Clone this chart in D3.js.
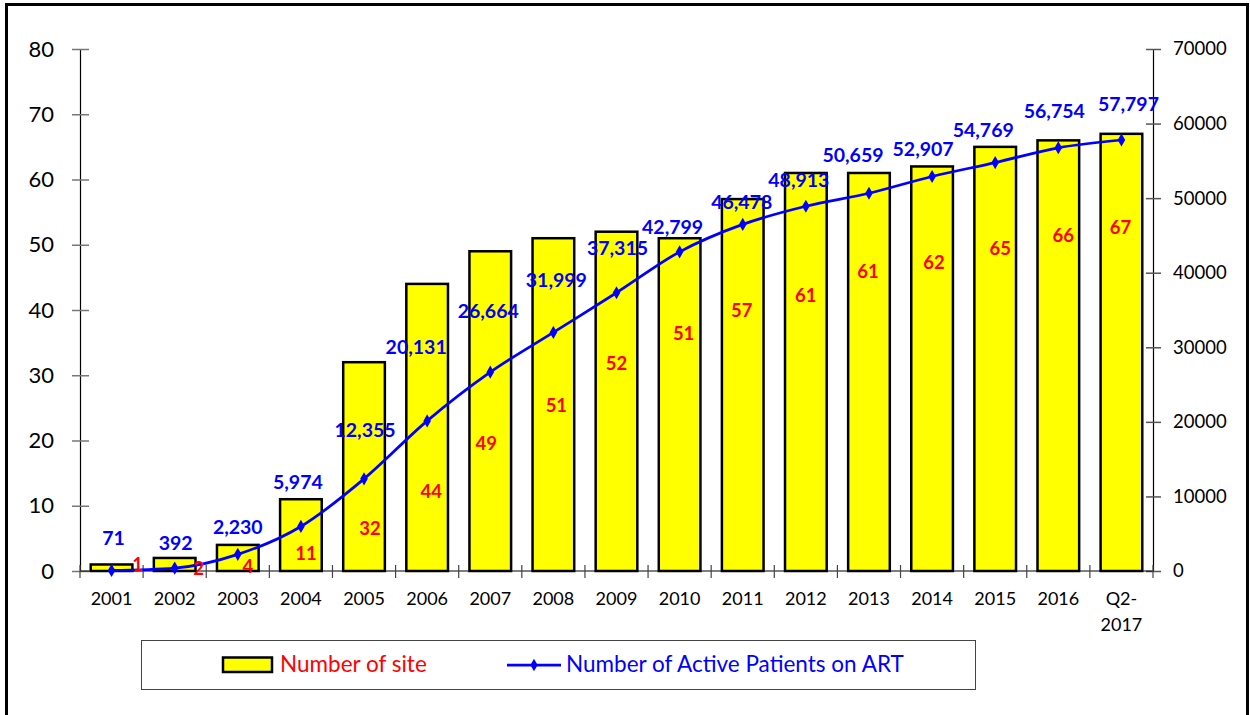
<!DOCTYPE html>
<html>
<head>
<meta charset="utf-8">
<script src="https://cdn.jsdelivr.net/npm/d3@7"></script>
<style>
  body { margin: 0; background: #fff; }
  svg { display: block; font-family: Lato, "Open Sans", sans-serif; }
</style>
</head>
<body>
<div id="chart_box"></div>
<script>
// data
var years = ['2001','2002','2003','2004','2005','2006','2007','2008','2009',
             '2010','2011','2012','2013','2014','2015','2016','Q2-2017']
var sites = [1,2,4,11,32,44,49,51,52,51,57,61,61,62,65,66,67]
var patients = [71,392,2230,5974,12355,20131,26664,31999,37315,42799,46478,48913,50659,52907,54769,56754,57797]
var leftTicks = [0,10,20,30,40,50,60,70,80]
var rightTicks = [0,10000,20000,30000,40000,50000,60000,70000]

// hand-placed label offsets (px from the line point), like the dragged labels in the original
var blueNudge = [[2,-32],[1,-25],[0,-27],[-3,-44],[1,-49],[-11,-74],[-2,-61],[3,-52],[1,-45],
                 [-7,-25],[-1,-22],[-7,-26],[-16,-38],[-9,-27],[-12,-33],[-4,-37],[7,-36]]
var redNudge = [[26,-6],[24,0],[10,12],[5,27],[6,49],[4,70],[-4,71],[3,73],[0,71],
                [4,81],[-1,86],[0,89],[-1,78],[2,86],[5,86],[5,88],[-1,87]]

var width = 1250, height = 715
var plotLeft = 80, plotRight = 1153, plotTop = 49, plotBottom = 571
var font = 'Lato, "Open Sans", sans-serif'

var svg = d3.select('#chart_box').append('svg')
  .attr('width', width).attr('height', height)

// outer frame
svg.append('rect')
  .attr('x', 6.5).attr('y', 4.5).attr('width', 1241).attr('height', 760)
  .attr('fill', 'none').attr('stroke', '#000').attr('stroke-width', 3)

var x = d3.scaleBand().domain(years).range([plotLeft, plotRight])
  .paddingInner(0.34).paddingOuter(0.17)
var yL = d3.scaleLinear().domain([0, 80]).range([plotBottom, plotTop])
var yR = d3.scaleLinear().domain([0, 70000]).range([plotBottom, plotTop])
var cx = function(i){ return x(years[i]) + x.bandwidth()/2 }

// bars
svg.selectAll('rect.bar')
  .data(sites)
  .enter().append('rect')
  .attr('class', 'bar')
  .attr('x', function(d,i){ return x(years[i]) })
  .attr('y', function(d){ return yL(d) })
  .attr('width', x.bandwidth())
  .attr('height', function(d){ return yL(0) - yL(d) })
  .attr('fill', '#ffff00').attr('stroke', '#000').attr('stroke-width', 2.5)

// left axis
var gL = svg.append('g').attr('transform', 'translate(' + plotLeft + ',0)')
  .call(d3.axisLeft(yL).tickValues(leftTicks).tickSize(0).tickPadding(26))
  .attr('font-family', font)
gL.select('.domain').attr('stroke', '#000').attr('stroke-width', 1.2)
gL.selectAll('.tick text').attr('font-size', 22).attr('fill', '#000')
gL.selectAll('.tick').append('line')
  .attr('x1', -8).attr('x2', 9).attr('stroke', '#777').attr('stroke-width', 1.5)

// right axis
var gR = svg.append('g').attr('transform', 'translate(' + plotRight + ',0)')
  .call(d3.axisRight(yR).tickValues(rightTicks).tickFormat(d3.format('d')).tickSize(0).tickPadding(20))
  .attr('font-family', font)
gR.select('.domain').attr('stroke', '#000').attr('stroke-width', 1.2)
gR.selectAll('.tick text').attr('font-size', 18.5).attr('fill', '#000')
gR.selectAll('.tick').append('line')
  .attr('x1', -7).attr('x2', 8).attr('stroke', '#555').attr('stroke-width', 1.5)

// x axis
svg.append('line')
  .attr('x1', plotLeft).attr('x2', plotRight).attr('y1', plotBottom).attr('y2', plotBottom)
  .attr('stroke', '#000').attr('stroke-width', 1.2)
var step = x.step()
svg.selectAll('line.xtick')
  .data(d3.range(years.length + 1))
  .enter().append('line')
  .attr('class', 'xtick')
  .attr('x1', function(k){ return plotLeft + k*step }).attr('x2', function(k){ return plotLeft + k*step })
  .attr('y1', plotBottom - 6).attr('y2', plotBottom + 7)
  .attr('stroke', '#444').attr('stroke-width', 1.2)

svg.selectAll('text.xlab')
  .data(years)
  .enter().append('text')
  .attr('class', 'xlab')
  .attr('x', function(d,i){ return cx(i) })
  .attr('y', 605)
  .attr('text-anchor', 'middle').attr('font-size', 18).attr('fill', '#000')
  .each(function(d){
    var t = d3.select(this)
    if (d.indexOf('Q2-') == 0) {
      t.append('tspan').attr('x', t.attr('x')).text('Q2-')
      t.append('tspan').attr('x', t.attr('x')).attr('dy', 26).text(d.slice(3))
    } else {
      t.text(d)
    }
  })

// line
var line = d3.line()
  .x(function(d,i){ return cx(i) })
  .y(function(d){ return yR(d) })
  .curve(d3.curveMonotoneX)
svg.append('path')
  .datum(patients)
  .attr('d', line)
  .attr('fill', 'none').attr('stroke', '#0000ff').attr('stroke-width', 2.75)

svg.selectAll('path.marker')
  .data(patients)
  .enter().append('path')
  .attr('class', 'marker')
  .attr('d', d3.symbol().type(d3.symbolDiamond).size(50))
  .attr('transform', function(d,i){ return 'translate(' + cx(i) + ',' + yR(d) + ')' })
  .attr('fill', '#0000ff')

// bar labels (red)
svg.selectAll('text.redlab')
  .data(sites)
  .enter().append('text')
  .attr('class', 'redlab')
  .attr('x', function(d,i){ return cx(i) + redNudge[i][0] })
  .attr('y', function(d,i){ return yR(patients[i]) + redNudge[i][1] })
  .attr('dy', '0.36em')
  .attr('text-anchor', 'middle').attr('font-size', 18.5).attr('font-weight', 'bold')
  .attr('fill', '#ff0000')
  .text(function(d){ return d })

// line labels (blue)
svg.selectAll('text.bluelab')
  .data(patients)
  .enter().append('text')
  .attr('class', 'bluelab')
  .attr('x', function(d,i){ return cx(i) + blueNudge[i][0] })
  .attr('y', function(d,i){ return yR(d) + blueNudge[i][1] })
  .attr('dy', '0.36em')
  .attr('text-anchor', 'middle').attr('font-size', 19.5).attr('font-weight', 'bold')
  .attr('fill', '#0000ff')
  .text(function(d){ return d3.format(',')(d) })

// legend
var lg = svg.append('g')
lg.append('rect')
  .attr('x', 141.5).attr('y', 640.5).attr('width', 834).attr('height', 49)
  .attr('fill', '#fff').attr('stroke', '#444').attr('stroke-width', 1)
lg.append('rect')
  .attr('x', 223).attr('y', 657.5).attr('width', 49).attr('height', 14.5)
  .attr('fill', '#ffff00').attr('stroke', '#000').attr('stroke-width', 2.5)
lg.append('text')
  .attr('x', 280).attr('y', 664).attr('dy', '0.36em')
  .attr('font-size', 22.5).attr('fill', '#ff0000')
  .text('Number of site')
lg.append('line')
  .attr('x1', 507).attr('x2', 561).attr('y1', 665).attr('y2', 665)
  .attr('stroke', '#0000ff').attr('stroke-width', 2.75)
lg.append('path')
  .attr('d', d3.symbol().type(d3.symbolDiamond).size(45))
  .attr('transform', 'translate(534,665)')
  .attr('fill', '#0000ff')
lg.append('text')
  .attr('x', 566).attr('y', 664).attr('dy', '0.36em')
  .attr('font-size', 22.5).attr('fill', '#0000ff')
  .text('Number of Active Patients on ART')
</script>
</body>
</html>
